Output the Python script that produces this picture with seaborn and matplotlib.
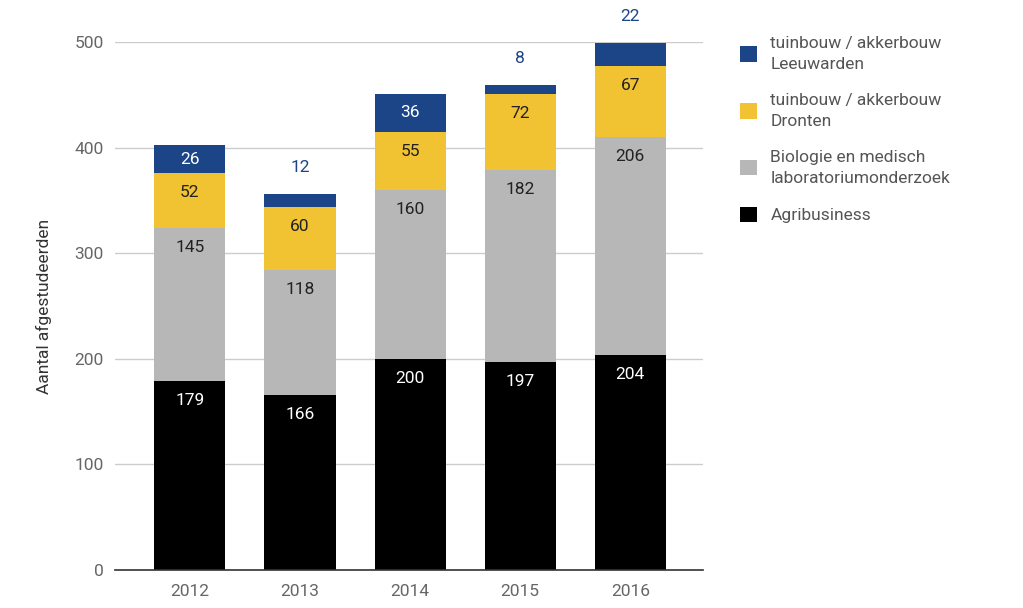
import matplotlib
matplotlib.use("Agg")
import matplotlib.pyplot as plt
import seaborn as sns
import numpy as np
from matplotlib.patches import Patch

years = ["2012", "2013", "2014", "2015", "2016"]
agribusiness = [179, 166, 200, 197, 204]
biologie = [145, 118, 160, 182, 206]
dronten = [52, 60, 55, 72, 67]
leeuwarden = [26, 12, 36, 8, 22]

series_names = ["Agribusiness",
                "Biologie en medisch\nlaboratoriumonderzoek",
                "tuinbouw / akkerbouw\nDronten",
                "tuinbouw / akkerbouw\nLeeuwarden"]
series_vals = [agribusiness, biologie, dronten, leeuwarden]
colors = ["#000000", "#b7b7b7", "#f1c232", "#1c4587"]
label_colors = ["white", "#222222", "#222222", "white"]

sns.set_theme(style="white")
plt.rcParams["font.family"] = ["Roboto", "DejaVu Sans"]

fig = plt.figure(figsize=(10.23, 6.08), dpi=100)
ax = fig.add_axes([115/1023, 1-570/608, (703-115)/1023, (570-42)/608])

FS = 12.5
px_per_unit = 528 / 500.0
bottom = np.zeros(len(years))
for name, vals, col, lc in zip(series_names, series_vals, colors, label_colors):
    vals = np.array(vals, dtype=float)
    sns.barplot(x=years, y=vals, bottom=bottom, color=col, width=0.645,
                ax=ax, linewidth=0, saturation=1, zorder=3)
    for i, v in enumerate(vals):
        top = bottom[i] + v
        if v < 25:
            ax.annotate(f"{int(v)}", (i, top), xytext=(0, 19),
                        textcoords="offset points", ha="center", va="center",
                        color="#1c4587", fontsize=FS, annotation_clip=False)
        else:
            # label near the top of the segment (about 19 px below its top)
            y = max(bottom[i] + v / 2, top - 19.5 / px_per_unit)
            ax.text(i, y, f"{int(v)}", ha="center", va="center",
                    color=lc, fontsize=FS, zorder=4)
    bottom = bottom + vals

ax.set_xlim(-0.68, 4.66)
ax.set_ylim(0, 500)
ax.set_yticks([0, 100, 200, 300, 400, 500])
ax.yaxis.grid(True, color="#cccccc", linewidth=1, zorder=0)
ax.set_axisbelow(True)
for s in ["top", "right", "left"]:
    ax.spines[s].set_visible(False)
ax.spines["bottom"].set_color("#333333")
ax.spines["bottom"].set_linewidth(1.2)
ax.spines["bottom"].set_zorder(5)
ax.tick_params(axis="both", length=0, labelsize=FS, labelcolor="#666666")
ax.tick_params(axis="y", pad=8)
ax.tick_params(axis="x", pad=10)
ax.set_xlabel("")
ax.set_ylabel("Aantal afgestudeerden", fontsize=FS, color="#333333", labelpad=16)

handles = [Patch(facecolor=c, edgecolor="none") for c in colors[::-1]]
leg = fig.legend(handles, series_names[::-1], loc="upper left",
           bbox_to_anchor=(740/1023, 1-36/608), frameon=False,
           fontsize=FS, labelcolor="#555555", handlelength=1.0, handleheight=1.0,
           handletextpad=0.75, labelspacing=1.2, borderpad=0, borderaxespad=0)
for t in leg.get_texts():
    t.set_linespacing(1.5)

fig.savefig("out.png", dpi=100)
